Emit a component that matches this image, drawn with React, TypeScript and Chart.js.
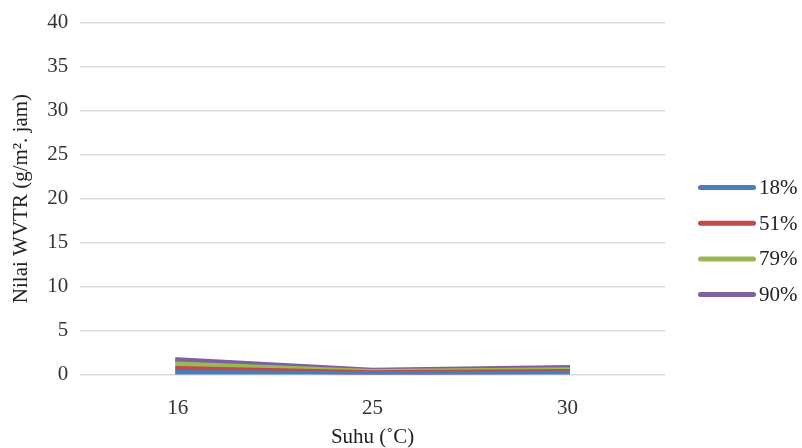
import React, { useEffect, useRef } from "react";
import { Chart, registerables } from "chart.js";

Chart.register(...registerables);

const categories = ["16", "25", "30"];
const seriesLabels = ["18%", "51%", "79%", "90%"];
const rh18 = [0.25, 0.1, 0.15];
const rh51 = [0.7, 0.2, 0.35];
const rh79 = [1.2, 0.35, 0.55];
const rh90 = [1.7, 0.5, 0.8];
const colors = ["#4a7ebb", "#be4b48", "#98b954", "#7d60a0"];
const yMin = 0;
const yMax = 40;
const yStep = 5;

const FONT = "'Liberation Serif', 'Times New Roman', serif";
const FS = 21;

const lineLegend = {
  id: "lineLegend",
  afterDraw(chart: any) {
    const ctx = chart.ctx;
    const area = chart.chartArea;
    const ds = chart.data.datasets;
    const spacing = 35.7;
    const x0 = area.right + 33;
    const lineLen = 58;
    const centerY = (area.top + area.bottom) / 2 + 42.5;
    const startY = centerY - (spacing * (ds.length - 1)) / 2;
    ctx.save();
    ds.forEach((d: any, i: number) => {
      const y = startY + i * spacing;
      ctx.beginPath();
      ctx.strokeStyle = d.borderColor;
      ctx.lineWidth = 5;
      ctx.lineCap = "round";
      ctx.moveTo(x0 + 2.5, y);
      ctx.lineTo(x0 + lineLen - 2.5, y);
      ctx.stroke();
      ctx.fillStyle = "#222";
      ctx.font = `${FS}px ${FONT}`;
      ctx.textBaseline = "middle";
      ctx.textAlign = "left";
      ctx.fillText(d.label, x0 + lineLen + 3, y + 1);
    });
    ctx.restore();
  },
};

export default function App() {
  const ref = useRef<HTMLCanvasElement | null>(null);
  useEffect(() => {
    if (!ref.current) return;
    const values = [rh18, rh51, rh79, rh90];
    const chart = new Chart(ref.current, {
      type: "line",
      data: {
        labels: categories,
        datasets: values.map((v, i) => ({
          label: seriesLabels[i],
          data: v,
          borderColor: colors[i],
          backgroundColor: colors[i],
          borderWidth: 5,
          pointRadius: 0,
          tension: 0,
          borderCapStyle: "square" as const,
        })),
      },
      options: {
        animation: false,
        responsive: false,
        maintainAspectRatio: false,
        layout: { padding: { top: 7, right: 137, bottom: 0, left: 9 } },
        plugins: {
          legend: { display: false },
          tooltip: { enabled: false },
        },
        scales: {
          x: {
            offset: true,
            grid: { display: false, drawTicks: false },
            border: { display: false },
            ticks: { color: "#333", font: { family: FONT, size: FS }, padding: 21 },
            title: {
              display: true,
              text: "Suhu (˚C)",
              color: "#222",
              font: { family: FONT, size: FS },
              padding: { top: -17, bottom: -2 },
            },
          },
          y: {
            min: yMin,
            max: yMax,
            ticks: { stepSize: yStep, color: "#333", font: { family: FONT, size: FS, lineHeight: 1.0 }, padding: 12 },
            grid: { color: "#d9d9d9", lineWidth: 1.5, drawTicks: false },
            border: { display: false },
            title: {
              display: true,
              text: "Nilai WVTR (g/m². jam)",
              color: "#222",
              font: { family: FONT, size: FS },
              padding: { top: 0, bottom: 1 },
            },
          },
        },
      },
      plugins: [lineLegend],
    });
    return () => chart.destroy();
  }, []);
  return (
    <div style={{ position: "fixed", left: 0, top: 0, width: 802, height: 448, background: "#fff" }}>
      <canvas ref={ref} width={802} height={448} style={{ display: "block" }} />
    </div>
  );
}
